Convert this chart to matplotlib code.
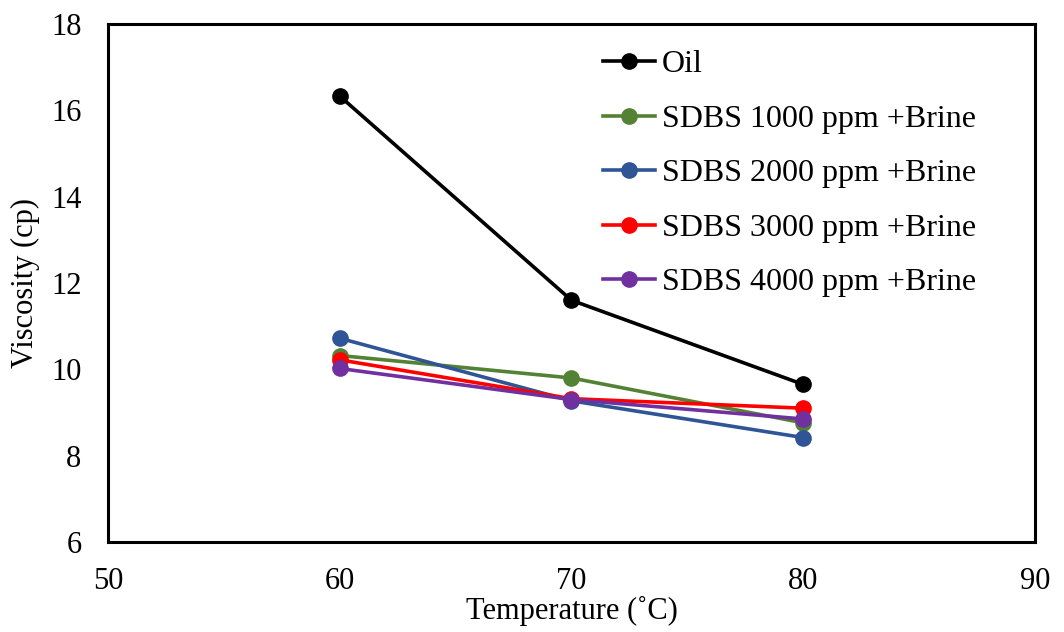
import matplotlib
matplotlib.use("Agg")
from matplotlib import pyplot as plt

# data
temperature = [60, 70, 80]
oil = [16.33, 11.6, 9.65]
sdbs_1000 = [10.32, 9.8, 8.76]
sdbs_2000 = [10.72, 9.27, 8.42]
sdbs_3000 = [10.22, 9.32, 9.1]
sdbs_4000 = [10.02, 9.3, 8.85]

series = [
    ("Oil", oil, "#000000"),
    ("SDBS 1000 ppm +Brine", sdbs_1000, "#548235"),
    ("SDBS 2000 ppm +Brine", sdbs_2000, "#2F5597"),
    ("SDBS 3000 ppm +Brine", sdbs_3000, "#FF0000"),
    ("SDBS 4000 ppm +Brine", sdbs_4000, "#7030A0"),
]

plt.rcParams["font.family"] = ["Liberation Serif", "DejaVu Serif"]

fig = plt.figure(figsize=(10.64, 6.32), dpi=100)
ax = fig.add_axes([0.1015, 0.1424, 0.8712, 0.8196])

for name, vals, col in series:
    ax.plot(temperature, vals, color=col, lw=2.6, marker="o", ms=11, label=name)

ax.set_xlim(50, 90)
ax.set_ylim(6, 18)
ax.set_xticks([50, 60, 70, 80, 90])
ax.set_yticks([6, 8, 10, 12, 14, 16, 18])
ax.tick_params(length=0, labelsize=22)
ax.tick_params(axis="x", pad=18)
ax.tick_params(axis="y", pad=19)
for s in ax.spines.values():
    s.set_linewidth(2.2)

ax.set_xlabel("Temperature (˚C)", fontsize=22, labelpad=0)
ax.set_ylabel("Viscosity (cp)", fontsize=22, labelpad=8)

ax.legend(loc="upper left", bbox_to_anchor=(0.52, 0.975), frameon=False,
          fontsize=23, handlelength=1.65, handletextpad=0.2,
          labelspacing=0.79, borderaxespad=0)

fig.savefig("out.png", dpi=100)
